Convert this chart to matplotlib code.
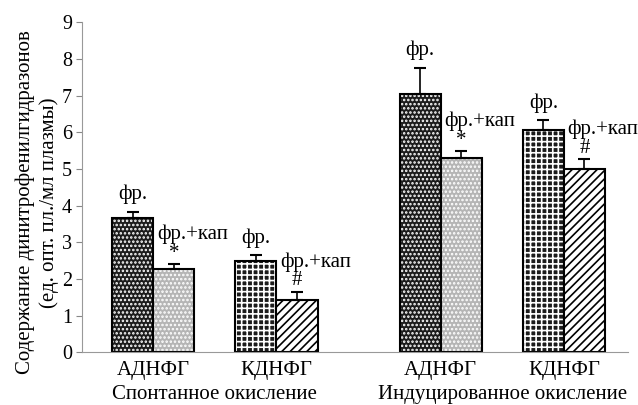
import numpy as np
import matplotlib.pyplot as plt

plt.rcParams['font.family'] = ['Liberation Serif', 'DejaVu Serif']
plt.rcParams['hatch.linewidth'] = 1.2

groups = ['АДНФГ', 'КДНФГ', 'АДНФГ', 'КДНФГ']
sections = ['Спонтанное окисление', 'Индуцированное окисление']
fr_vals = [3.65, 2.48, 7.04, 6.05]
fr_err = [0.18, 0.17, 0.72, 0.28]
kap_vals = [2.28, 1.42, 5.30, 4.99]
kap_err = [0.12, 0.23, 0.18, 0.27]
kap_marks = ['*', '#', '*', '#']

group_pos = np.array([0, 3, 7, 10])
w = 1.0
fs = 15

fig = plt.figure(figsize=(6.38, 4.05), dpi=100)
ax = fig.add_axes([0.128, 0.13, 0.857, 0.815])

# fill + hatch per bar (face, hatch colour, hatch)
fr_style = [('#1c1c1c', 'white', '....'), ('#1c1c1c', 'white', '+++')] * 2
kap_style = [('#b5b5b5', 'white', '....'), ('white', 'black', '////')] * 2

for i in range(4):
    xl = group_pos[i] - w / 2
    xr = group_pos[i] + w / 2
    fc, hc, h = fr_style[i]
    ax.bar(xl, fr_vals[i], w, color=fc, edgecolor=hc, hatch=h, lw=0)
    ax.bar(xl, fr_vals[i], w, fill=False, edgecolor='black', lw=1.5)
    ax.errorbar(xl, fr_vals[i], yerr=[[0], [fr_err[i]]], color='black',
                capsize=4, lw=1.2, capthick=1.5)
    fc, hc, h = kap_style[i]
    ax.bar(xr, kap_vals[i], w, color=fc, edgecolor=hc, hatch=h, lw=0)
    ax.bar(xr, kap_vals[i], w, fill=False, edgecolor='black', lw=1.5)
    ax.errorbar(xr, kap_vals[i], yerr=[[0], [kap_err[i]]], color='black',
                capsize=4, lw=1.2, capthick=1.5)

    ax.text(xl, fr_vals[i] + fr_err[i] + 0.47, 'фр.', ha='center',
            va='center', fontsize=fs)
    ax.text(xr + 0.45, kap_vals[i] + kap_err[i] + 0.82, 'фр.+кап',
            ha='center', va='center', fontsize=fs)
    ax.text(xr, kap_vals[i] + kap_err[i] + 0.3, kap_marks[i],
            ha='center', va='center', fontsize=fs)

ax.set_xlim(-1.744, 11.57)
ax.set_ylim(0, 9)
ax.set_yticks(range(10))
ax.set_xticks(group_pos)
ax.set_xticklabels(groups, fontsize=fs)
ax.tick_params(axis='x', length=0, pad=6)
ax.tick_params(axis='y', labelsize=14.5, direction='out', length=4,
               color='#888888', pad=3)
for s in ['top', 'right']:
    ax.spines[s].set_visible(False)
ax.spines['left'].set_color('#999999')
ax.spines['bottom'].set_color('#999999')

ax.text((group_pos[0] + group_pos[1]) / 2, -0.88, sections[0],
        ha='center', va='top', fontsize=fs)
ax.text((group_pos[2] + group_pos[3]) / 2, -0.88, sections[1],
        ha='center', va='top', fontsize=fs)

fig.text(0.04, 0.5, 'Содержание динитрофенилгидразонов',
         rotation=90, ha='center', va='center', fontsize=fs)
fig.text(0.077, 0.5, '(ед. опт. пл./мл плазмы)',
         rotation=90, ha='center', va='center', fontsize=fs)

fig.savefig('out.png', dpi=100)
